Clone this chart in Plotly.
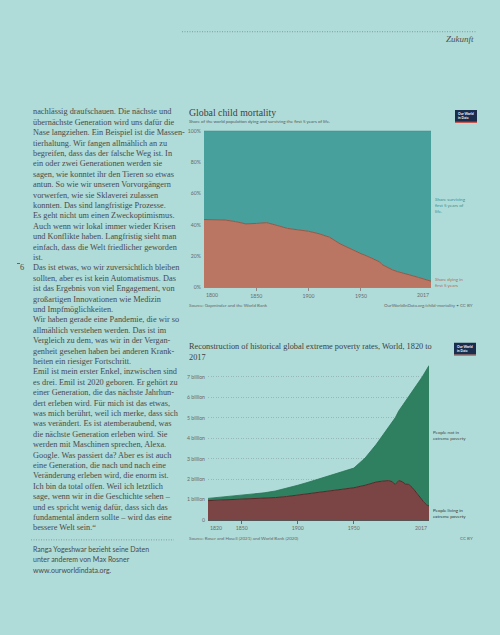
import plotly.graph_objects as go

W, H = 500, 635
BG = "#afdcd9"
TXT = "#4a4a4a"

# ---------------- data: chart 1 (child mortality, % of children) ----------------
mort_years = [1800, 1810, 1820, 1830, 1840, 1850, 1860, 1870, 1880, 1890, 1900, 1910,
              1920, 1930, 1940, 1950, 1955, 1960, 1965, 1968, 1970, 1975, 1980, 1985,
              1990, 1995, 2000, 2005, 2010, 2015, 2017]
share_dying = [43.3, 43.2, 43.0, 42.0, 40.5, 40.8, 41.3, 39.5, 37.6, 36.7, 35.8, 34.2,
               32.0, 27.8, 24.5, 21.5, 20.2, 18.7, 17.3, 16.2, 14.6, 12.8, 11.2, 10.0,
               9.2, 8.3, 7.3, 6.3, 5.3, 4.3, 3.9]
share_surviving = [100 - d for d in share_dying]
mort_ticks = [1850, 1900, 1950]
pct_ticks = [0, 20, 40, 60, 80, 100]
pct_labels = ["0%", "20%", "40%", "60%", "80%", "100%"]

# ---------------- data: chart 2 (extreme poverty, billions) ----------------
pov_years = [1820, 1830, 1840, 1850, 1860, 1870, 1880, 1890, 1900, 1910, 1920, 1929,
             1940, 1950, 1960, 1970, 1975, 1981, 1984, 1987, 1990, 1993, 1996, 1999,
             2002, 2005, 2008, 2010, 2011, 2012, 2013, 2015, 2017]
in_poverty = [0.95, 0.97, 1.00, 1.03, 1.05, 1.07, 1.10, 1.15, 1.22, 1.28, 1.34, 1.40,
              1.50, 1.58, 1.70, 1.86, 1.90, 1.93, 1.88, 1.74, 1.93, 1.88, 1.76, 1.74,
              1.60, 1.40, 1.21, 1.10, 0.98, 0.90, 0.83, 0.74, 0.69]
world_population = [1.06, 1.11, 1.16, 1.21, 1.27, 1.33, 1.42, 1.55, 1.70, 1.86, 2.02, 2.18,
                    2.37, 2.54, 3.03, 3.70, 4.07, 4.53, 4.77, 5.01, 5.33, 5.56, 5.80, 6.03,
                    6.26, 6.50, 6.75, 6.92, 7.00, 7.09, 7.17, 7.34, 7.55]
not_in_poverty = [t - p for t, p in zip(world_population, in_poverty)]
pov_ticks = [1850, 1900, 1950]
bn_ticks = [0, 1, 2, 3, 4, 5, 6, 7]
bn_labels = ["0", "1 billion", "2 billion", "3 billion", "4 billion", "5 billion",
             "6 billion", "7 billion"]

# ---------------- text of the page ----------------
body_lines = [
    "nachlässig draufschauen. Die nächste und",
    "übernächste Generation wird uns dafür die",
    "Nase langziehen. Ein Beispiel ist die Massen-",
    "tierhaltung. Wir fangen allmählich an zu",
    "begreifen, dass das der falsche Weg ist. In",
    "ein oder zwei Generationen werden sie",
    "sagen, wie konntet ihr den Tieren so etwas",
    "antun. So wie wir unseren Vorvorgängern",
    "vorwerfen, wie sie Sklaverei zulassen",
    "konnten. Das sind langfristige Prozesse.",
    "Es geht nicht um einen Zweckoptimismus.",
    "Auch wenn wir lokal immer wieder Krisen",
    "und Konflikte haben. Langfristig sieht man",
    "einfach, dass die Welt friedlicher geworden",
    "ist.",
    "Das ist etwas, wo wir zuversichtlich bleiben",
    "sollten, aber es ist kein Automatismus. Das",
    "ist das Ergebnis von viel Engagement, von",
    "großartigen Innovationen wie Medizin",
    "und Impfmöglichkeiten.",
    "Wir haben gerade eine Pandemie, die wir so",
    "allmählich verstehen werden. Das ist im",
    "Vergleich zu dem, was wir in der Vergan-",
    "genheit gesehen haben bei anderen Krank-",
    "heiten ein riesiger Fortschritt.",
    "Emil ist mein erster Enkel, inzwischen sind",
    "es drei. Emil ist 2020 geboren. Er gehört zu",
    "einer Generation, die das nächste Jahrhun-",
    "dert erleben wird. Für mich ist das etwas,",
    "was mich berührt, weil ich merke, dass sich",
    "was verändert. Es ist atemberaubend, was",
    "die nächste Generation erleben wird. Sie",
    "werden mit Maschinen sprechen, Alexa.",
    "Google. Was passiert da? Aber es ist auch",
    "eine Generation, die nach und nach eine",
    "Veränderung erleben wird, die enorm ist.",
    "Ich bin da total offen. Weil ich letztlich",
    "sage, wenn wir in die Geschichte sehen –",
    "und es spricht wenig dafür, dass sich das",
    "fundamental ändern sollte – wird das eine",
    "bessere Welt sein.“",
]
footer_lines = [
    "Ranga Yogeshwar bezieht seine Daten",
    "unter anderem von Max Rosner",
    "www.ourworldindata.org.",
]


def px(x):
    return x / W


def py(y):
    return 1 - y / H


fig = go.Figure()

# chart 1 traces
fig.add_trace(go.Scatter(x=mort_years, y=share_dying, stackgroup="m", mode="lines",
                         line=dict(color="#9a5645", width=1), fillcolor="#ba7662",
                         xaxis="x", yaxis="y", hoverinfo="skip"))
fig.add_trace(go.Scatter(x=mort_years, y=share_surviving, stackgroup="m", mode="lines",
                         line=dict(color="#3a8b87", width=1), fillcolor="#48a09c",
                         xaxis="x", yaxis="y", hoverinfo="skip"))
# chart 2 traces
fig.add_trace(go.Scatter(x=pov_years, y=in_poverty, stackgroup="p", mode="lines",
                         line=dict(color="#5a2828", width=1), fillcolor="#7b4545",
                         xaxis="x2", yaxis="y2", hoverinfo="skip"))
fig.add_trace(go.Scatter(x=pov_years, y=not_in_poverty, stackgroup="p", mode="lines",
                         line=dict(color="#2a7555", width=0.8), fillcolor="#2f8060",
                         xaxis="x2", yaxis="y2", hoverinfo="skip"))

small = dict(family="Lato", size=5.2, color="#6a6a6a")

fig.update_layout(
    width=W, height=H, autosize=False,
    margin=dict(l=0, r=0, t=0, b=0),
    paper_bgcolor=BG, plot_bgcolor=BG, showlegend=False,
    xaxis=dict(domain=[px(204), px(431)], range=[1800, 2017], anchor="y",
               tickvals=mort_ticks, tickfont=small, ticks="outside", ticklen=3,
               tickcolor="#8a8a8a", showline=True, linecolor="#8a8a8a", linewidth=1,
               showgrid=False, zeroline=False, fixedrange=True),
    yaxis=dict(domain=[py(287), py(129)], range=[0, 100], anchor="x",
               tickvals=pct_ticks, ticktext=pct_labels, tickfont=small,
               showgrid=False, zeroline=False, ticks="", ticklabelstandoff=2,
               fixedrange=True),
    xaxis2=dict(domain=[px(208), px(429)], range=[1820, 2017], anchor="y2",
                tickvals=pov_ticks, tickfont=small, ticks="outside", ticklen=3,
                tickcolor="#666", showline=True, linecolor="#555", linewidth=1,
                showgrid=False, zeroline=False, fixedrange=True),
    yaxis2=dict(domain=[py(522), py(365)], range=[0, 7.6], anchor="x2",
                tickvals=bn_ticks, ticktext=bn_labels, tickfont=small,
                showgrid=True, gridcolor="rgba(120,140,140,0.45)", griddash="1px,1.5px",
                gridwidth=0.7, zeroline=False, ticks="", ticklabelstandoff=2,
                fixedrange=True),
)

ann = []


def text(x, y, s, size, color=TXT, family="Lato", xanchor="left", yanchor="middle", **kw):
    ann.append(dict(x=px(x), y=py(y), xref="paper", yref="paper", text=s,
                    showarrow=False, xanchor=xanchor, yanchor=yanchor,
                    font=dict(family=family, size=size, color=color), align="left", **kw))


# header
text(476, 36, "<i>Zukunft</i>", 9, color="#505050", family="Liberation Serif", xanchor="right")

# body column
for i, line in enumerate(body_lines):
    text(31, 110 + i * 10.5, line, 8.3, family="Liberation Serif")
text(22, 110 + 15 * 10.5, "6", 8.3, family="Liberation Serif", xanchor="center")
for i, line in enumerate(footer_lines):
    text(31, 551 + i * 10.5, line, 7.0, family="Lato")

# chart 1 texts
text(187, 111, "Global child mortality", 9.8, color="#404040", family="Liberation Serif")
text(187, 119.5, "Share of the world population dying and surviving the first 5 years of life.",
     4.45, color="#555")
text(433, 204.5, "Share surviving<br>first 5 years of<br>life.", 4.5, color="#3d8e8a")
text(433, 282, "Share dying in<br>first 5 years", 4.5, color="#b06a56")
text(187, 305, "Source: Gapminder and the World Bank", 4.5, color="#666")
text(475, 305, "OurWorldInData.org/child-mortality • CC BY", 4.5, color="#666", xanchor="right")
ann.append(dict(x=1800, y=0, xref="x", yref="y", text="1800", showarrow=False,
                xanchor="left", yanchor="top", yshift=-3, font=small))
ann.append(dict(x=2017, y=0, xref="x", yref="y", text="2017", showarrow=False,
                xanchor="right", yanchor="top", yshift=-3, font=small))

# chart 2 texts
text(187, 352, "Reconstruction of historical global extreme poverty rates, World, 1820 to<br>2017",
     8.3, color="#404040", family="Liberation Serif")
text(431, 436.5, "People not in<br>extreme poverty", 4.5, color="#444")
text(431, 515, "People living in<br>extreme poverty", 4.5, color="#333")
text(187, 541, "Source: Roser and Hasell (2021) and World Bank (2020)", 4.5, color="#666")
text(475, 541, "CC BY", 4.5, color="#666", xanchor="right")
ann.append(dict(x=1820, y=0, xref="x2", yref="y2", text="1820", showarrow=False,
                xanchor="left", yanchor="top", yshift=-3, font=small))
ann.append(dict(x=2017, y=0, xref="x2", yref="y2", text="2017", showarrow=False,
                xanchor="right", yanchor="top", yshift=-3, font=small))

# logos
for (lx, ly) in [(455, 108), (454, 343)]:
    text(lx + 11, ly + 6, "<b>Our World<br>in Data</b>", 3.3, color="white", xanchor="center")

shapes = []
dots = dict(color="#7f9c9a", width=1, dash="1px,1.5px")
shapes.append(dict(type="line", xref="paper", yref="paper", x0=px(182), x1=px(476),
                   y0=py(29), y1=py(29), line=dots))
shapes.append(dict(type="line", xref="paper", yref="paper", x0=px(31), x1=px(174),
                   y0=py(542), y1=py(542), line=dots))
shapes.append(dict(type="line", xref="paper", yref="paper", x0=px(17), x1=px(20),
                   y0=py(263), y1=py(263), line=dict(color="#4a4a4a", width=0.8)))
for (lx, ly) in [(455, 108), (454, 343)]:
    shapes.append(dict(type="rect", xref="paper", yref="paper", x0=px(lx), x1=px(lx + 22),
                       y0=py(ly + 12), y1=py(ly), fillcolor="#1b2d4d", line=dict(width=0),
                       layer="below"))
    shapes.append(dict(type="rect", xref="paper", yref="paper", x0=px(lx), x1=px(lx + 22),
                       y0=py(ly + 13), y1=py(ly + 12), fillcolor="#c8443a", line=dict(width=0)))

fig.update_layout(annotations=ann, shapes=shapes)
fig.write_html(
    "out.html",
    config=dict(displayModeBar=False),
    post_script="document.body.style.margin='0';document.body.style.background='%s';" % BG,
)
